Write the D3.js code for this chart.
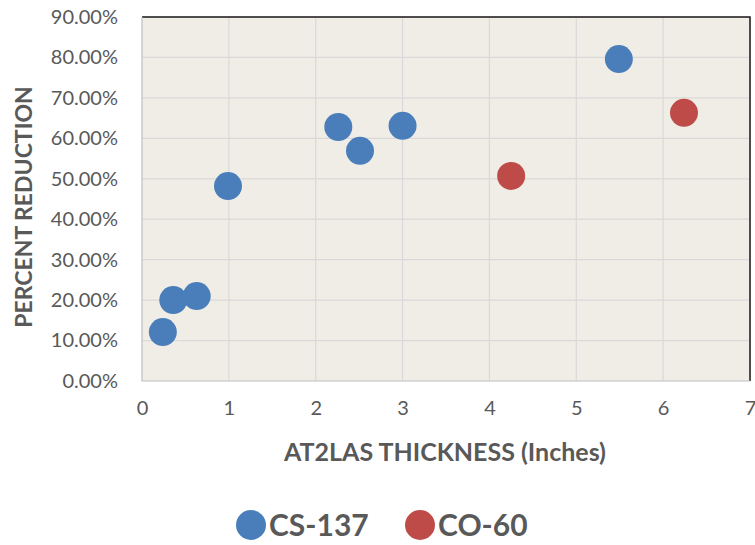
<!DOCTYPE html>
<html>
<head>
<meta charset="utf-8">
<script src="https://cdn.jsdelivr.net/npm/d3@7"></script>
<style>
  body { margin: 0; background: #fff; }
  svg { font-family: Lato, "Open Sans", sans-serif; }
</style>
</head>
<body>
<div id="chart"></div>
<script>
// data
const cs137X = [0.24, 0.36, 0.63, 0.99, 2.26, 2.51, 3.0, 5.49];
const cs137Y = [0.121, 0.200, 0.210, 0.482, 0.628, 0.569, 0.631, 0.796];
const co60X = [4.25, 6.24];
const co60Y = [0.507, 0.663];
const xTicks = [0, 1, 2, 3, 4, 5, 6, 7];
const yTicks = [0, 0.1, 0.2, 0.3, 0.4, 0.5, 0.6, 0.7, 0.8, 0.9];
const seriesNames = ['CS-137', 'CO-60'];
const colors = ['#4a7ebb', '#be4b48'];

const w = 755, h = 545;
const plotL = 142, plotR = 750, plotT = 17, plotB = 381;

const svg = d3.select('#chart').append('svg')
    .attr('width', w).attr('height', h);

const xScale = d3.scaleLinear().domain([0, 7]).range([plotL, plotR]);
const yScale = d3.scaleLinear().domain([0, 0.9]).range([plotB, plotT]);

// plot background
svg.append('rect')
    .attr('x', plotL).attr('y', plotT)
    .attr('width', plotR - plotL).attr('height', plotB - plotT)
    .attr('fill', '#efede5');

// grid
svg.append('g').selectAll('line')
    .data(yTicks.slice(1))
    .enter().append('line')
    .attr('x1', plotL).attr('x2', plotR)
    .attr('y1', d => yScale(d)).attr('y2', d => yScale(d))
    .attr('stroke', '#d9d9d9').attr('stroke-width', 1.2);
svg.append('g').selectAll('line')
    .data(xTicks.slice(1))
    .enter().append('line')
    .attr('y1', plotT).attr('y2', plotB)
    .attr('x1', d => xScale(d)).attr('x2', d => xScale(d))
    .attr('stroke', '#d9d9d9').attr('stroke-width', 1.2);

// frame: black top/right, gray axes
svg.append('path')
    .attr('d', `M${plotL},${plotT}H${plotR}V${plotB}`)
    .attr('fill', 'none').attr('stroke', '#1a1a1a').attr('stroke-width', 1.5);
svg.append('path')
    .attr('d', `M${plotL},${plotT}V${plotB}H${plotR}`)
    .attr('fill', 'none').attr('stroke', '#bfbfbf').attr('stroke-width', 1.2);

// axes
const xAxis = d3.axisBottom(xScale).tickValues(xTicks).tickSize(0).tickPadding(20)
    .tickFormat(d3.format('d'));
const yAxis = d3.axisLeft(yScale).tickValues(yTicks).tickSize(0).tickPadding(24)
    .tickFormat(d3.format('.2%'));

svg.append('g')
    .attr('transform', `translate(0,${plotB})`)
    .call(xAxis)
    .call(g => g.select('.domain').remove())
    .selectAll('text')
    .attr('font-size', 20).attr('fill', '#595959')
    .attr('font-family', 'Lato, sans-serif');

svg.append('g')
    .attr('transform', `translate(${plotL},0)`)
    .call(yAxis)
    .call(g => g.select('.domain').remove())
    .selectAll('text')
    .attr('font-size', 20).attr('fill', '#595959')
    .attr('font-family', 'Lato, sans-serif');

// axis titles
svg.append('text')
    .attr('x', 445).attr('y', 461)
    .attr('text-anchor', 'middle')
    .attr('font-size', 25).attr('font-weight', 'bold').attr('fill', '#595959')
    .text('AT2LAS THICKNESS (Inches)');

svg.append('text')
    .attr('transform', `translate(32,${(plotT + plotB) / 2 + 8}) rotate(-90)`)
    .attr('text-anchor', 'middle')
    .attr('font-size', 23).attr('font-weight', 'bold').attr('fill', '#595959')
    .text('PERCENT REDUCTION');

// points
const series = [
  { name: seriesNames[0], xs: cs137X, ys: cs137Y, color: colors[0] },
  { name: seriesNames[1], xs: co60X, ys: co60Y, color: colors[1] }
];

series.forEach(s => {
  svg.append('g').selectAll('circle')
      .data(s.xs.map((x, i) => [x, s.ys[i]]))
      .enter().append('circle')
      .attr('cx', d => xScale(d[0]))
      .attr('cy', d => yScale(d[1]))
      .attr('r', 14)
      .attr('fill', s.color);
});

// legend
const legend = svg.append('g').attr('transform', 'translate(251,525)');
const lx = [0, 169];
series.forEach((s, i) => {
  const g = legend.append('g').attr('transform', `translate(${lx[i]},0)`);
  g.append('circle').attr('r', 15).attr('fill', s.color);
  g.append('text')
      .attr('x', 18).attr('y', 11)
      .attr('font-size', 30).attr('font-weight', 'bold').attr('fill', '#595959')
      .text(s.name);
});
</script>
</body>
</html>
